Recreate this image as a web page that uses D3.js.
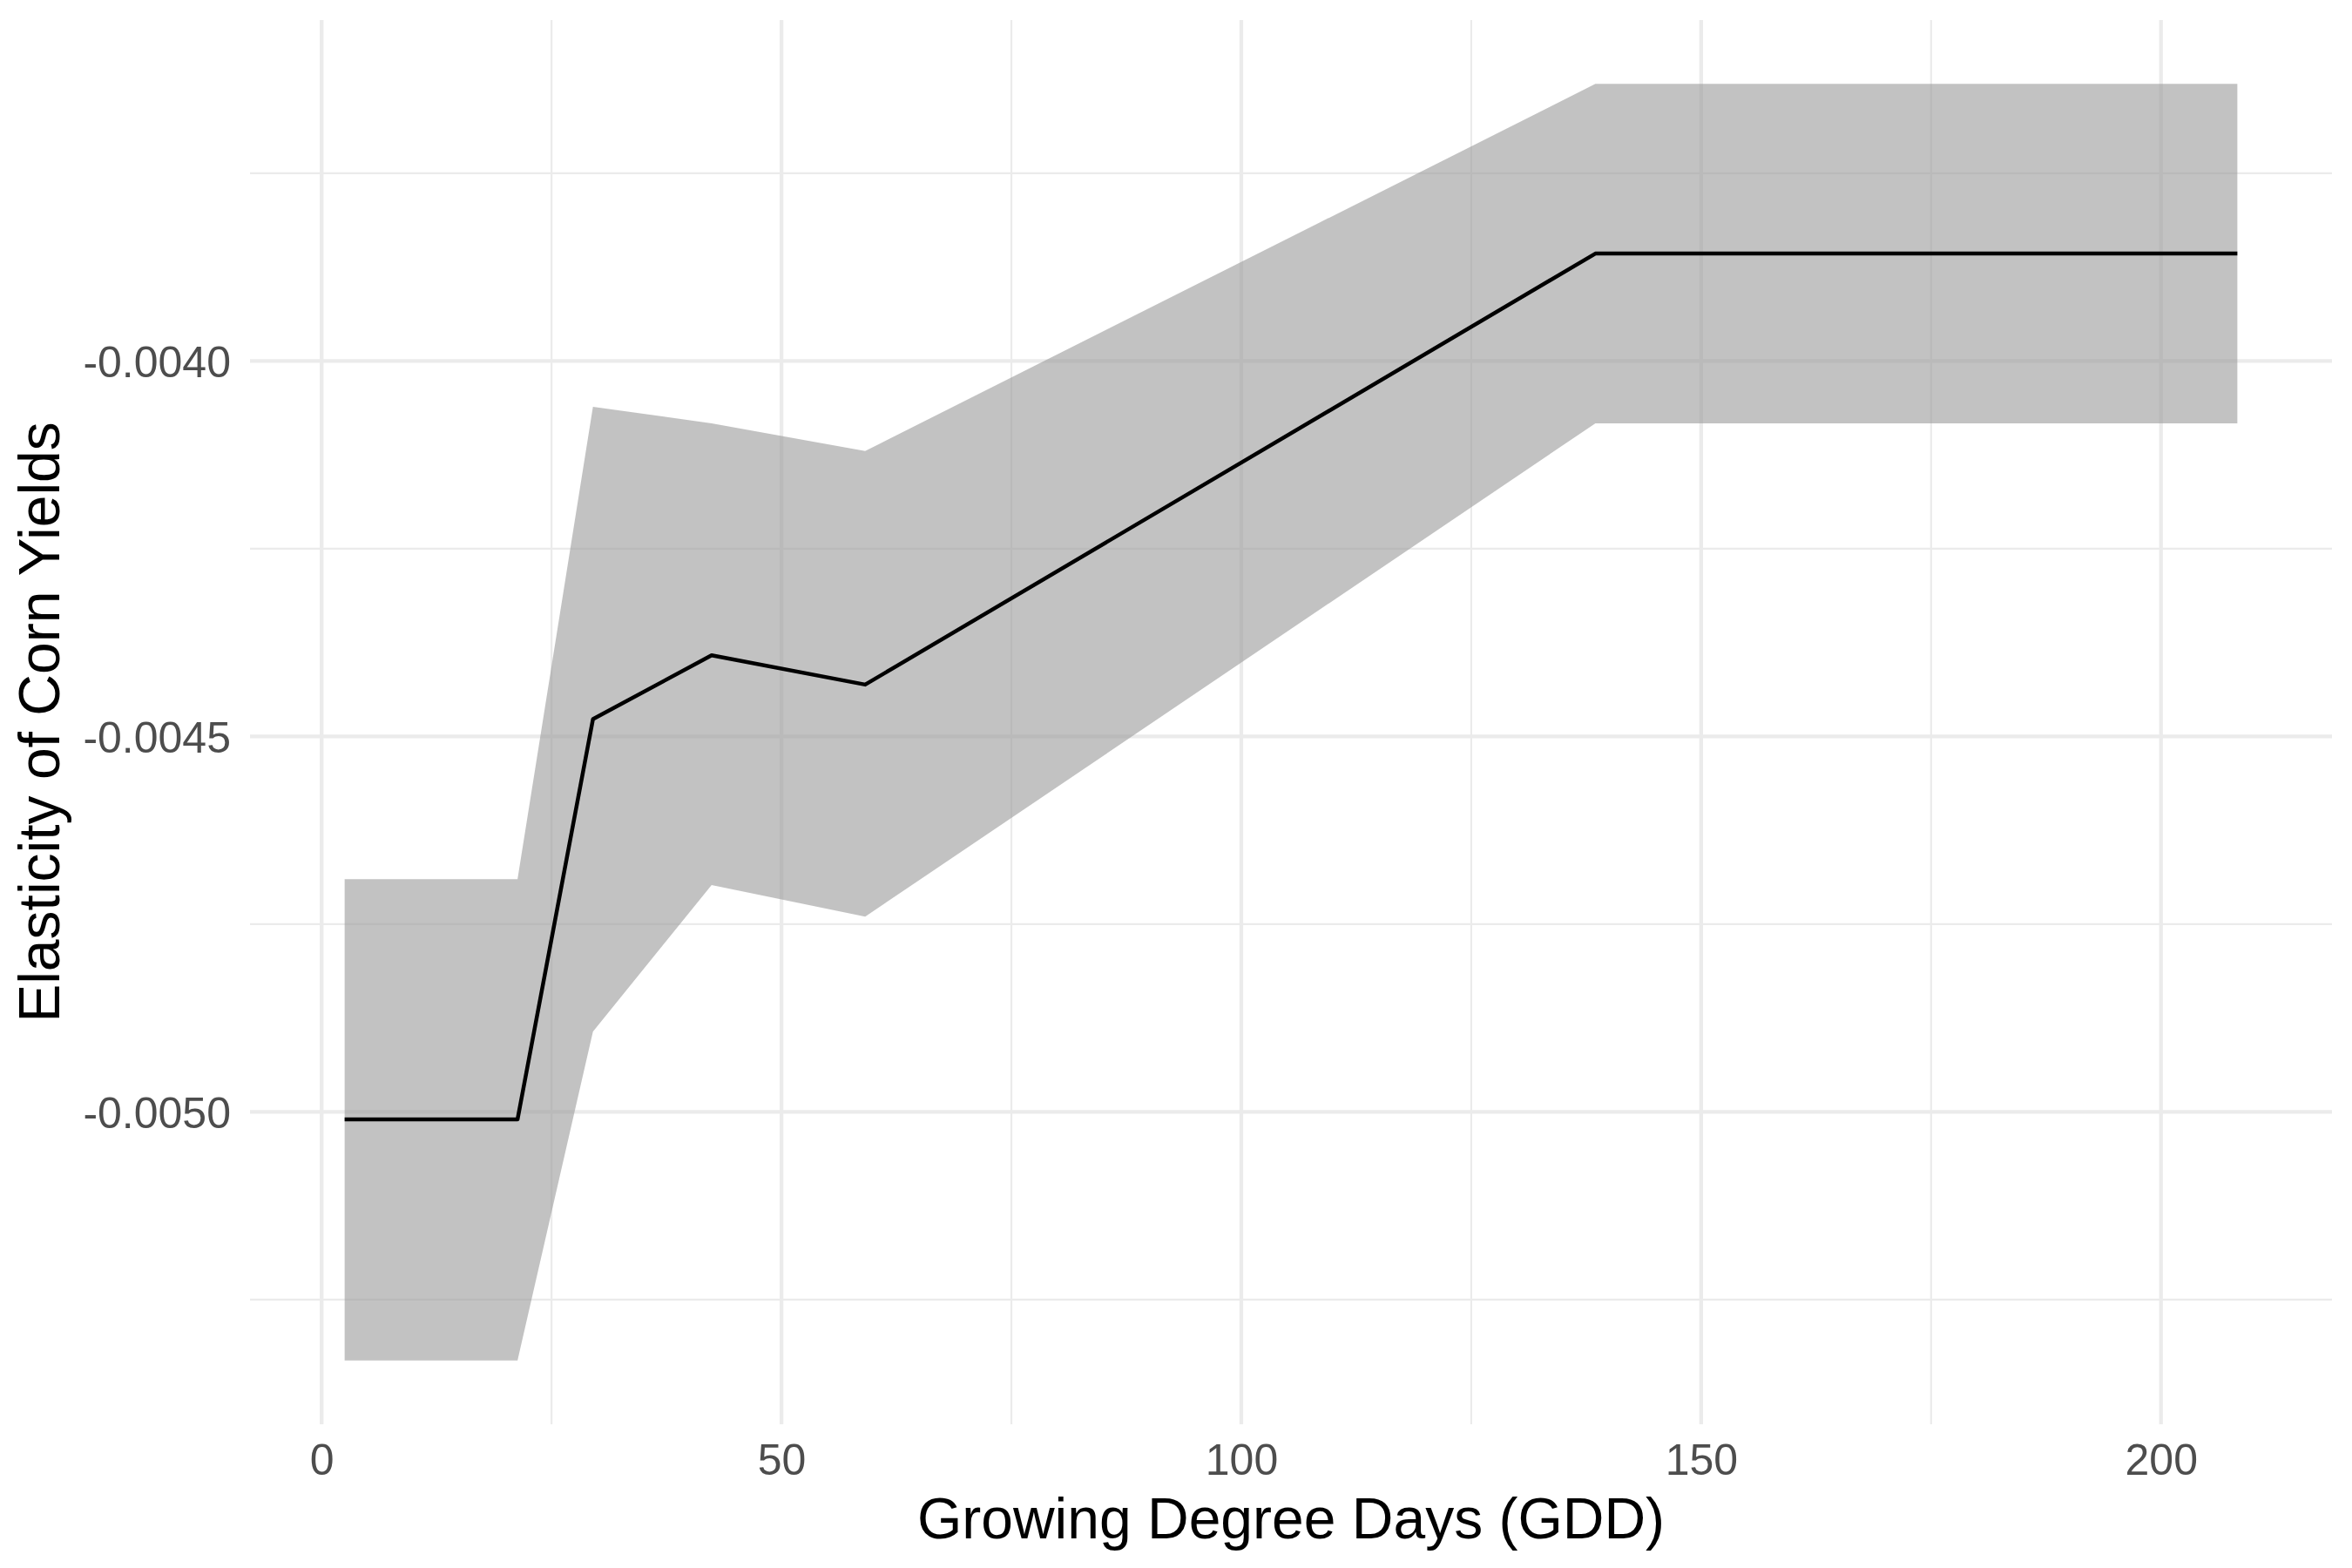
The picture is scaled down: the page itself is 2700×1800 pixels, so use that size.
<!DOCTYPE html>
<html>
<head>
<meta charset="utf-8">
<script src="https://cdnjs.cloudflare.com/ajax/libs/d3/7.8.5/d3.min.js"></script>
<style>
  body { margin: 0; background: #fff; }
  text { font-family: "Liberation Sans", Arial, Helvetica, sans-serif; }
</style>
</head>
<body>
<svg id="chart"></svg>
<script>
// values
var gdd   = [2.5, 21.3, 29.5, 42.4, 59.1, 138.5, 208.3];
var est   = [-0.00501, -0.00501, -0.004477, -0.004392, -0.004431, -0.003857, -0.003857];
var lower = [-0.005331, -0.005331, -0.004893, -0.004698, -0.004740, -0.004083, -0.004083];
var upper = [-0.004690, -0.004690, -0.004061, -0.004083, -0.004120, -0.003631, -0.003631];

var xTicks      = [0, 50, 100, 150, 200];
var xMinorTicks = [25, 75, 125, 175];
var yTicks      = [-0.0050, -0.0045, -0.0040];
var yMinorTicks = [-0.00525, -0.00475, -0.00425, -0.00375];

var data = gdd.map(function(g, i) {
  return { gdd: g, est: est[i], lo: lower[i], hi: upper[i] };
});

var W = 2700, H = 1800;
var margin = {top: 23, right: 23, bottom: 165, left: 287};
var width  = W - margin.left - margin.right;
var height = H - margin.top - margin.bottom;

// ggplot style 5% expansion
var xExt = d3.extent(gdd);
var xPad = (xExt[1] - xExt[0]) * 0.05;
var yExt = [d3.min(lower), d3.max(upper)];
var yPad = (yExt[1] - yExt[0]) * 0.05;

var x = d3.scaleLinear().domain([xExt[0] - xPad, xExt[1] + xPad]).range([0, width]);
var y = d3.scaleLinear().domain([yExt[0] - yPad, yExt[1] + yPad]).range([height, 0]);

var svg = d3.select("#chart")
  .attr("width", W)
  .attr("height", H)
  .append("g")
  .attr("transform", "translate(" + margin.left + "," + margin.top + ")");

// grid
svg.selectAll(".xminor")
  .data(xMinorTicks)
  .enter().append("line")
  .attr("x1", function(d) { return x(d); })
  .attr("x2", function(d) { return x(d); })
  .attr("y1", 0).attr("y2", height)
  .attr("stroke", "#ebebeb").attr("stroke-width", 2.2);

svg.selectAll(".yminor")
  .data(yMinorTicks)
  .enter().append("line")
  .attr("x1", 0).attr("x2", width)
  .attr("y1", function(d) { return y(d); })
  .attr("y2", function(d) { return y(d); })
  .attr("stroke", "#ebebeb").attr("stroke-width", 2.2);

svg.selectAll(".xmajor")
  .data(xTicks)
  .enter().append("line")
  .attr("x1", function(d) { return x(d); })
  .attr("x2", function(d) { return x(d); })
  .attr("y1", 0).attr("y2", height)
  .attr("stroke", "#ebebeb").attr("stroke-width", 4.3);

svg.selectAll(".ymajor")
  .data(yTicks)
  .enter().append("line")
  .attr("x1", 0).attr("x2", width)
  .attr("y1", function(d) { return y(d); })
  .attr("y2", function(d) { return y(d); })
  .attr("stroke", "#ebebeb").attr("stroke-width", 4.3);

// confidence ribbon
var area = d3.area()
  .x(function(d) { return x(d.gdd); })
  .y0(function(d) { return y(d.lo); })
  .y1(function(d) { return y(d.hi); });

svg.append("path")
  .datum(data)
  .attr("d", area)
  .attr("fill", "#999999")
  .attr("fill-opacity", 0.6);

var line = d3.line()
  .x(function(d) { return x(d.gdd); })
  .y(function(d) { return y(d.est); });

svg.append("path")
  .datum(data)
  .attr("d", line)
  .attr("fill", "none")
  .attr("stroke", "#000")
  .attr("stroke-width", 4.5)
  .attr("stroke-linejoin", "round");

// axes (labels only)
var xAxis = svg.append("g")
  .attr("transform", "translate(0," + height + ")")
  .call(d3.axisBottom(x).tickValues(xTicks).tickSize(0).tickPadding(22));

var yAxis = svg.append("g")
  .call(d3.axisLeft(y).tickValues(yTicks).tickSize(0).tickPadding(22)
    .tickFormat(function(d) { return d.toFixed(4); }));

[xAxis, yAxis].forEach(function(a) {
  a.select(".domain").remove();
  a.selectAll("text")
    .attr("font-family", "Liberation Sans, Arial, sans-serif")
    .attr("font-size", 50)
    .attr("fill", "#4d4d4d");
});
yAxis.selectAll("text").attr("dy", "0.36em");

svg.append("text")
  .attr("x", width / 2)
  .attr("y", 1766 - margin.top)
  .attr("text-anchor", "middle")
  .attr("font-size", 66)
  .attr("fill", "#000")
  .text("Growing Degree Days (GDD)");

svg.append("text")
  .attr("transform", "translate(" + (68 - margin.left) + "," + (height / 2) + ") rotate(-90)")
  .attr("text-anchor", "middle")
  .attr("font-size", 66)
  .attr("fill", "#000")
  .text("Elasticity of Corn Yields");
</script>
</body>
</html>
